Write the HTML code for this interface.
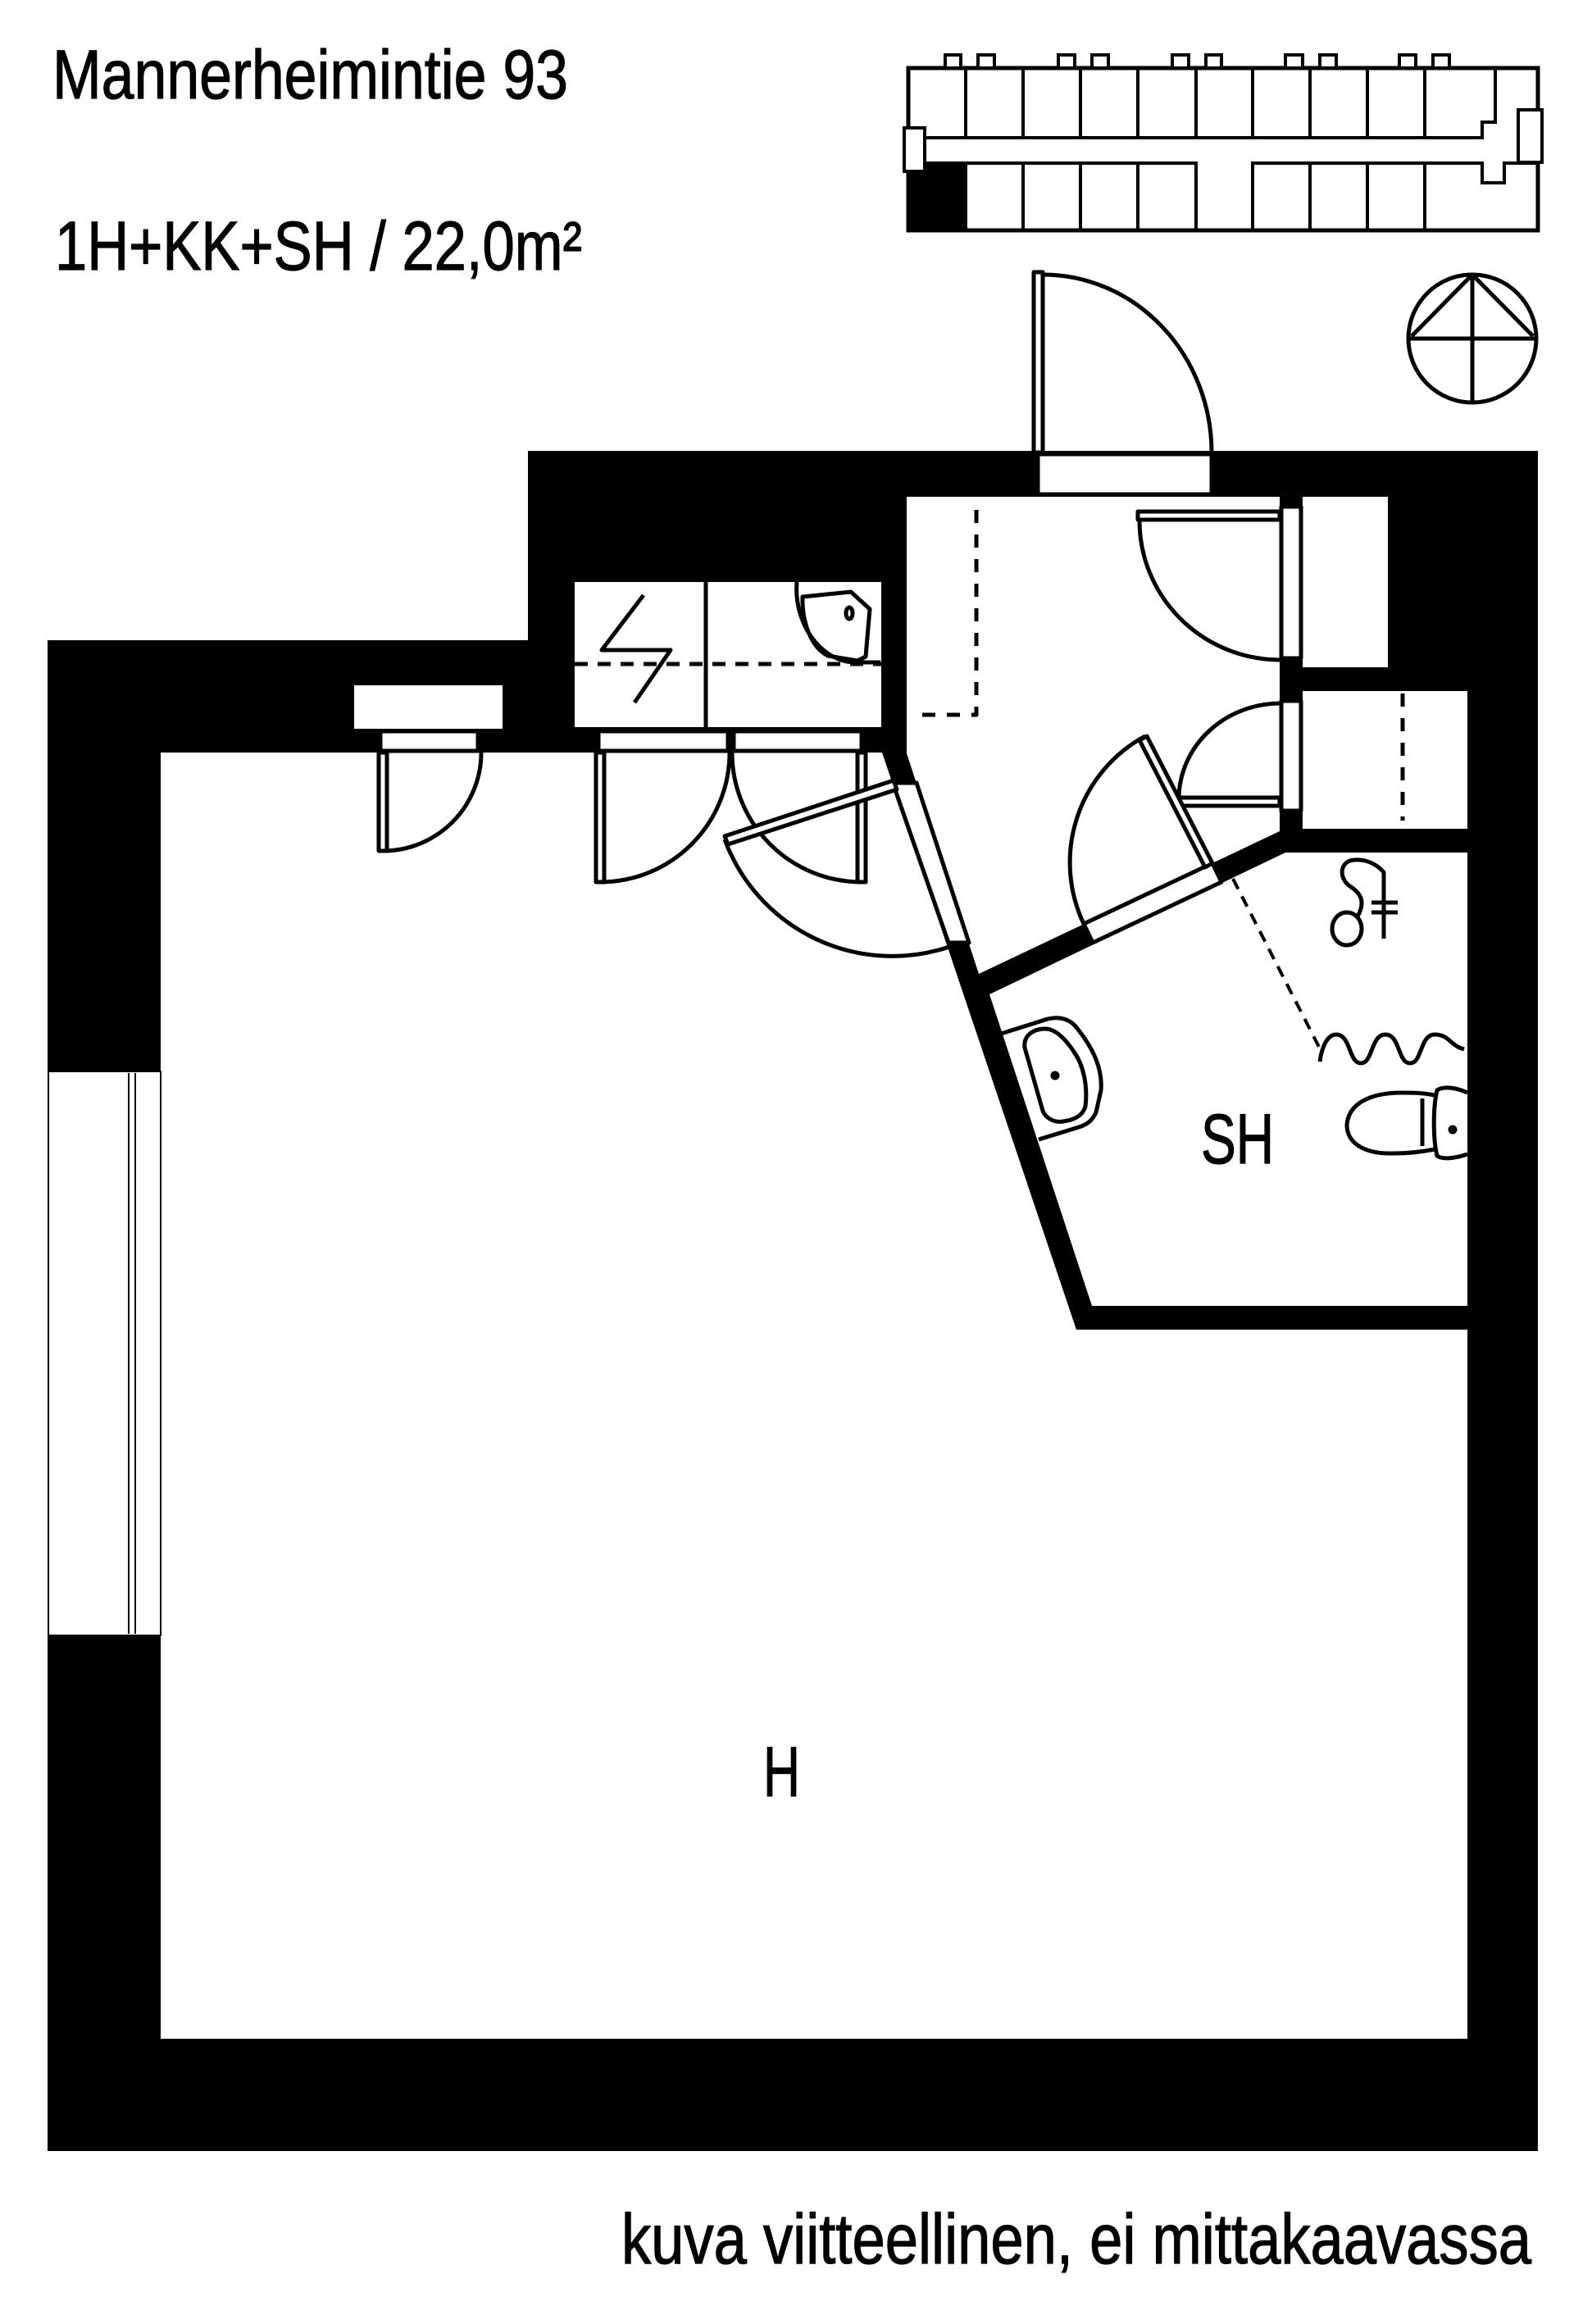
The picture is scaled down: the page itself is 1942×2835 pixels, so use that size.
<!DOCTYPE html>
<html><head><meta charset="utf-8"><style>
html,body{margin:0;padding:0;background:#fff;}
svg{display:block;}
text{font-family:"Liberation Sans",sans-serif;fill:#000;stroke:#000;stroke-width:1.2;}
</style></head><body>
<svg width="1942" height="2835" viewBox="0 0 1942 2835" xmlns="http://www.w3.org/2000/svg">
<rect width="1942" height="2835" fill="#fff"/>
<text x="64" y="120" font-size="84" textLength="629" lengthAdjust="spacingAndGlyphs">Mannerheimintie 93</text>
<text x="67" y="329" font-size="84" textLength="643" lengthAdjust="spacingAndGlyphs">1H+KK+SH / 22,0m²</text>
<text x="758" y="2761" font-size="86" textLength="1110" lengthAdjust="spacingAndGlyphs" stroke-width="1">kuva viitteellinen, ei mittakaavassa</text>

<!-- key plan -->
<g fill="none" stroke="#000" stroke-width="4">
<rect x="1108" y="83" width="768" height="198" stroke-width="5"/>
<rect x="1108" y="199" width="70" height="82" fill="#000"/>
<path d="M1108 168 H1808 V149 H1824 V83"/>
<path d="M1108 199 H1459 V281 M1528 281 V199 H1808 V223 H1835 V199 H1876"/>
<path d="M1178 83V168 M1248 83V168 M1318 83V168 M1388 83V168 M1459 83V168 M1528 83V168 M1598 83V168 M1668 83V168 M1738 83V168"/>
<path d="M1248 199V281 M1318 199V281 M1388 199V281 M1598 199V281 M1668 199V281 M1738 199V281"/>
<g fill="#fff">
<rect x="1153" y="67" width="19" height="16"/><rect x="1193" y="67" width="20" height="16"/>
<rect x="1291" y="67" width="20" height="16"/><rect x="1332" y="67" width="20" height="16"/>
<rect x="1430" y="67" width="20" height="16"/><rect x="1471" y="67" width="19" height="16"/>
<rect x="1568" y="67" width="21" height="16"/><rect x="1610" y="67" width="20" height="16"/>
<rect x="1707" y="67" width="20" height="16"/><rect x="1748" y="67" width="20" height="16"/>
<rect x="1103" y="156" width="25" height="53"/>
<rect x="1852" y="134" width="29" height="64"/>
</g>
</g>

<!-- compass -->
<g fill="none" stroke="#000" stroke-width="5">
<circle cx="1796" cy="413" r="78"/>
<path d="M1718 413 H1874 M1796 335 V491 M1796 335 L1722 410 M1796 335 L1870 410"/>
</g>

<!-- walls -->
<polygon points="58,781 644,781 644,550 1876,550 1876,2624 58,2624" fill="#000"/>
<polygon points="196,918 1076,918 1313,1622 1790,1622 1790,2487 196,2487" fill="#fff"/>
<polygon points="1106,606 1561,606 1561,1014 1194,1188 1106,919" fill="#fff"/>
<polygon points="1568,1040 1790,1040 1790,1593 1332,1593 1207,1213" fill="#fff"/>
<rect x="1589" y="606" width="104" height="208" fill="#fff"/>
<rect x="1589" y="843" width="201" height="168" fill="#fff"/>
<rect x="701" y="710" width="374" height="177" fill="#fff"/>
<rect x="432" y="836" width="181" height="53" fill="#fff"/>

<!-- window -->
<rect x="59" y="1307" width="137" height="688" fill="#fff" stroke="#000" stroke-width="2"/>
<path d="M157 1309V1993 M165 1309V1993" stroke="#000" stroke-width="2" fill="none"/>

<g fill="none" stroke="#000" stroke-width="5" stroke-linejoin="round">
<!-- entrance -->
<rect x="1266" y="554" width="212" height="49" fill="#fff"/>
<rect x="1261" y="332" width="11" height="220" fill="#fff"/>
<path d="M1272 335 A206 217 0 0 1 1478 552"/>

<!-- cabinet door strips -->
<rect x="730" y="892" width="158" height="24" fill="#fff"/>
<rect x="895" y="892" width="156" height="24" fill="#fff"/>
<rect x="464" y="892" width="119" height="24" fill="#fff"/>
<rect x="462" y="918" width="10" height="120" fill="#fff"/>
<path d="M467 1038 A120 120 0 0 0 587 918"/>
<rect x="727" y="918" width="10" height="158" fill="#fff"/>
<path d="M732 1076 A158 158 0 0 0 890 918"/>
<rect x="1046" y="918" width="10" height="158" fill="#fff"/>
<path d="M1051 1076 A158 158 0 0 1 893 918"/>

<!-- kitchen -->
<path d="M861 710V887"/>
<path d="M701 810H1075" stroke-dasharray="16 12"/>
<path d="M785 726 L734 793 L818 793 L774 857"/>
<path d="M972 710 C968 760 1000 805 1040 808 L1074 808"/>
<path d="M979 728 L1038 722 L1061 743 L1056 801 L1046 806 L1010 800 C990 790 978 760 979 728 Z"/>
<ellipse cx="1036" cy="748" rx="4" ry="7"/>

<!-- hall dashed -->
<path d="M1191 622 V872 H1114" stroke-dasharray="16 14"/>

<!-- closet door strips -->
<rect x="1563" y="618" width="24" height="185" fill="#fff"/>
<rect x="1563" y="855" width="24" height="134" fill="#fff"/>
<rect x="1388" y="624" width="173" height="10" fill="#fff"/>
<path d="M1390 635 A172 170 0 0 0 1561 805"/>
<rect x="1437" y="973" width="124" height="10" fill="#fff"/>
<path d="M1438 973 A124 117 0 0 1 1561 858"/>
<path d="M1711 846V1001" stroke-dasharray="16 14"/>

<!-- door hall -> H (diag wall) -->
<polygon points="1089,955 1118,955 1182,1150 1157,1150" fill="#fff"/>
<polygon points="1090,952 1094,963 888,1030 884,1020" fill="#fff"/>
<path d="M884 1024 A218 218 0 0 0 1158 1155"/>

<!-- door hall -> SH -->
<polygon points="1322,1127 1479,1053 1490,1076 1333,1150" fill="#fff"/>
<polygon points="1479,1053 1470,1058 1390,903 1399,898" fill="#fff"/>
<path d="M1397 898 A175 175 0 0 0 1322 1127"/>

<!-- SH fixtures -->
<path d="M1504 1072 L1612 1283" stroke-dasharray="14 10" stroke-width="4"/>
<path d="M1610 1295 C1612 1280 1618 1262 1630 1262 C1648 1262 1645 1297 1660 1297 C1675 1297 1672 1262 1690 1262 C1708 1262 1705 1297 1720 1297 C1735 1297 1732 1262 1750 1262 C1768 1262 1768 1275 1786 1280"/>
<ellipse cx="1643" cy="1133" rx="18" ry="20"/>
<path d="M1656 1118 C1666 1100 1660 1090 1648 1082 C1632 1072 1634 1050 1652 1049 C1668 1048 1680 1055 1688 1064 V1145"/>
<path d="M1673 1101H1705 M1673 1113H1705"/>
<path d="M1221 1261 L1278 1243 C1295 1239 1306 1245 1312 1252 C1335 1280 1345 1305 1343 1330 L1337 1357 C1332 1368 1325 1372 1316 1375 L1267 1390"/>
<path d="M1250 1278 C1248 1262 1262 1255 1275 1255 C1288 1255 1300 1268 1310 1283 C1322 1300 1327 1325 1324 1350 C1320 1362 1310 1366 1297 1368 C1285 1370 1275 1363 1272 1355 Z"/>
<circle cx="1287" cy="1312" r="3" fill="#000"/>
<path d="M1750 1336 C1735 1333 1725 1333 1710 1333 C1670 1333 1645 1347 1643 1372 C1643 1395 1665 1408 1700 1407 C1720 1407 1735 1405 1750 1402"/>
<path d="M1735 1340 L1735 1398"/>
<path d="M1790 1333 C1775 1326 1760 1325 1753 1330 C1748 1350 1748 1390 1753 1410 C1760 1415 1775 1413 1790 1408"/>
<circle cx="1772" cy="1378" r="3" fill="#000"/>
</g>

<text x="931" y="2191" font-size="86" textLength="45" lengthAdjust="spacingAndGlyphs">H</text>
<text x="1465" y="1419" font-size="86" textLength="89" lengthAdjust="spacingAndGlyphs">SH</text>
</svg>
</body></html>
